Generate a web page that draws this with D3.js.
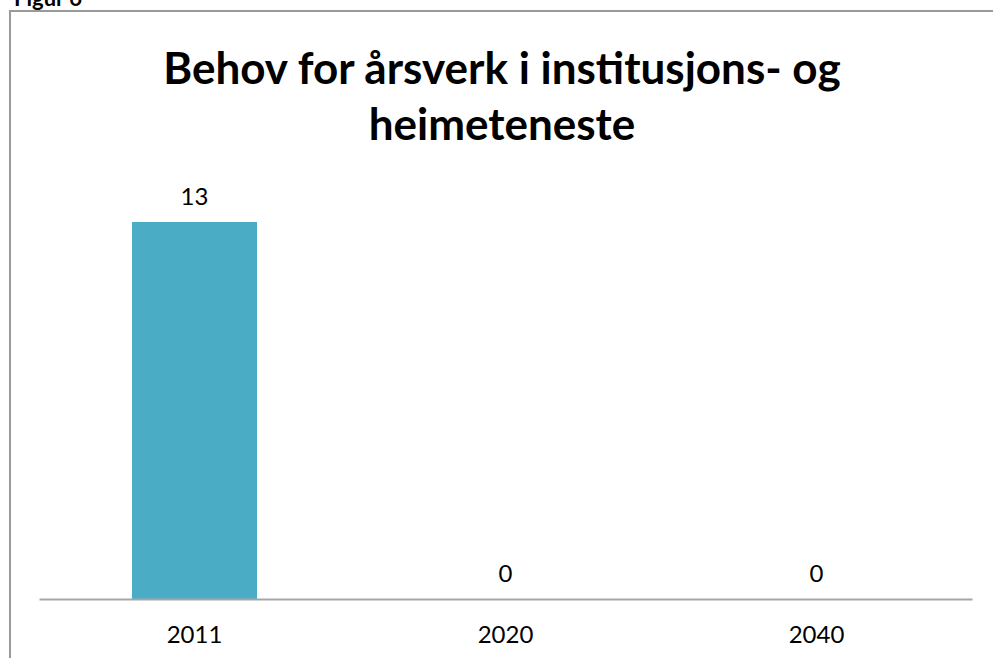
<!DOCTYPE html>
<html><head><meta charset="utf-8">
<script src="https://cdn.jsdelivr.net/npm/d3@7"></script>
<style>body{margin:0;background:#fff}svg{display:block}</style>
</head><body>
<svg id="c" width="993" height="658"></svg>
<script>
const categories = ["2011", "2020", "2040"];
const values = [13, 0, 0];
const titleLines = ["Behov for årsverk i institusjons- og", "heimeteneste"];
const figLabel = "Figur 6";

const svg = d3.select("#c");
const font = "Lato, 'Open Sans', sans-serif";

svg.append("text").attr("x", 14).attr("y", 6).text(figLabel)
  .attr("font-family", font).attr("font-weight", "bold").attr("font-size", 22).attr("fill", "#000");

svg.append("rect").attr("x", 10).attr("y", 11).attr("width", 1000).attr("height", 700)
  .attr("fill", "none").attr("stroke", "#9a9a9a").attr("stroke-width", 2);

const x = d3.scaleBand().domain(categories).range([39, 972]).paddingInner(0.598).paddingOuter(0.299);
const y = d3.scaleLinear().domain([0, 13]).range([599, 222]);

svg.append("g").selectAll("text").data(titleLines).join("text")
  .attr("x", 502).attr("y", (d, i) => 84 + i * 56).attr("text-anchor", "middle")
  .attr("font-family", font).attr("font-weight", "bold").attr("font-size", 44).attr("fill", "#000")
  .text(d => d);

svg.append("g").selectAll("rect").data(values).join("rect")
  .attr("x", (d, i) => x(categories[i])).attr("width", x.bandwidth())
  .attr("y", d => y(d)).attr("height", d => y(0) - y(d)).attr("fill", "#4bacc6");

const ax = svg.append("g").attr("transform", `translate(0,${y(0)})`)
  .call(d3.axisBottom(x).tickSize(0).tickPadding(27));
ax.select(".domain").attr("stroke", "#a6a6a6").attr("stroke-width", 2);
ax.selectAll("text").attr("font-family", font).attr("font-size", 24).attr("fill", "#000");

svg.append("g").selectAll("text").data(values).join("text")
  .attr("x", (d, i) => x(categories[i]) + x.bandwidth() / 2).attr("y", d => y(d) - 17)
  .attr("text-anchor", "middle").attr("font-family", font).attr("font-size", 24).attr("fill", "#000")
  .text(d => d);
</script>
</body></html>
